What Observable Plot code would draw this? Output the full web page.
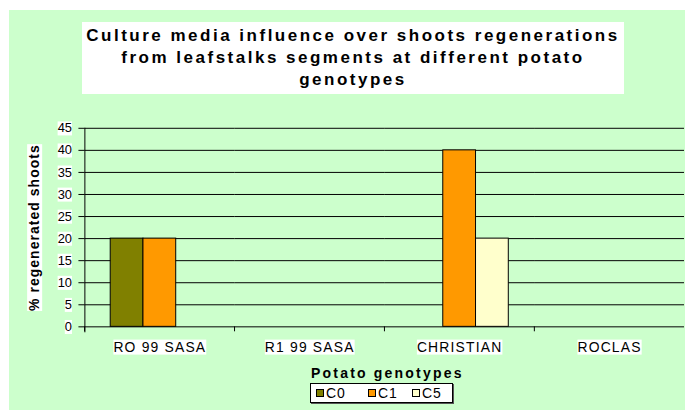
<!DOCTYPE html>
<html>
<head>
<meta charset="utf-8">
<script src="https://cdn.jsdelivr.net/npm/d3@7"></script>
<script src="https://cdn.jsdelivr.net/npm/@observablehq/plot@0.6"></script>
<style>
  html, body { margin: 0; padding: 0; width: 685px; height: 410px; overflow: hidden; background: #fff; }
  body { position: relative; font-family: "Liberation Sans", Arial, sans-serif; }
  #bg { position: absolute; left: 9px; top: 10px; right: 0; bottom: 0; background: #CCFFCC; }
  #title { position: absolute; left: 82px; top: 22px; width: 542px; height: 72px; background: #fff;
           text-align: center; font-weight: bold; font-size: 17px; line-height: 22px; letter-spacing: 2.5px;
           padding-top: 3px; box-sizing: border-box; color: #000; white-space: nowrap; }
  #chart { position: absolute; left: 0; top: 100px; }
  #chart svg { overflow: hidden; }
  #chart g[aria-label="y-axis label"] text { font-weight: bold; font-size: 14px; letter-spacing: 1.1px; }
  #chart g[aria-label="fx-axis tick label"] text { font-size: 14px; letter-spacing: 1.2px; }
  #legtitle { position: absolute; left: 311px; top: 365px; font-weight: bold; font-size: 14px; letter-spacing: 2.2px; }
  #legend { position: absolute; left: 310px; top: 383px; width: 143px; height: 20px; background: #fff;
            border: 1px solid #000; box-shadow: 1px 1px 0 #555; box-sizing: border-box; }
  .item { position: absolute; top: 1px; font-size: 14px; line-height: 16px; letter-spacing: 1px; }
  .sw { display: inline-block; width: 6px; height: 6px; border: 1px solid #000; margin-right: 2px; vertical-align: 1px; }
</style>
</head>
<body>
<div id="bg"></div>
<div id="title">Culture media influence over shoots regenerations<br>from leafstalks segments at different potato<br>genotypes</div>
<div id="chart"></div>
<div id="legtitle">Potato genotypes</div>
<div id="legend"></div>
<script>
// ---- data ----
const genotypes = ["RO 99 SASA", "R1 99 SASA", "CHRISTIAN", "ROCLAS"];
const media = ["C0", "C1", "C5"];
const valuesC0 = [20, 0, 0, 0];
const valuesC1 = [20, 0, 40, 0];
const valuesC5 = [0, 0, 20, 0];
const mediaColors = ["#808000", "#FF9900", "#FFFFCC"];
const yTicks = [0, 5, 10, 15, 20, 25, 30, 35, 40, 45];
const yLabel = "% regenerated shoots";

const series = [valuesC0, valuesC1, valuesC5];
const rows = genotypes.flatMap((g, i) => media.map((m, j) => ({genotype: g, medium: m, value: series[j][i]})));

const W = 690, H = 265, ML = 84, MR = 0;
const step = (W - ML - MR) / genotypes.length;

const chart = Plot.plot({
  width: W, height: H,
  marginTop: 28, marginBottom: 37, marginLeft: ML, marginRight: MR,
  style: {fontFamily: "'Liberation Sans', Arial, sans-serif", fontSize: "13px", background: "transparent", color: "#000"},
  fx: {domain: genotypes, padding: 0, label: null, axis: null},
  x: {domain: media, paddingInner: 0, paddingOuter: 0.76, axis: null},
  y: {domain: [0, 45], axis: null},
  color: {domain: media, range: mediaColors},
  marks: [
    Plot.gridY(yTicks, {stroke: "#000", strokeOpacity: 1, strokeWidth: 1}),
    Plot.frame({anchor: "left", facetAnchor: "left", stroke: "#000", insetBottom: -5}),
    Plot.barY(rows, {fx: "genotype", x: "medium", y: "value", fill: "medium", stroke: "#000", strokeWidth: 1}),
    Plot.axisY(yTicks, {facetAnchor: "left", tickSize: 6, tickPadding: 7, label: yLabel, labelArrow: false, labelAnchor: "center", labelOffset: 56}),
    Plot.axisFx({anchor: "bottom", tickSize: 0, tickPadding: 15, label: null}),
    Plot.axisFx({anchor: "bottom", tickSize: 5, tickFormat: () => "", label: null, dx: -step / 2})
  ]
});
document.getElementById("chart").appendChild(chart);

// strip any auto arrow from the y label
chart.querySelectorAll('g[aria-label="y-axis label"] text').forEach(t => {
  t.textContent = t.textContent.replace(/\s*↑\s*/g, "");
});

// white boxes behind axis texts
for (const sel of ['g[aria-label="y-axis tick label"] text', 'g[aria-label="fx-axis tick label"] text', 'g[aria-label="y-axis label"] text']) {
  chart.querySelectorAll(sel).forEach(t => {
    if (!t.textContent) return;
    const b = t.getBBox();
    const r = document.createElementNS("http://www.w3.org/2000/svg", "rect");
    r.setAttribute("x", b.x); r.setAttribute("y", b.y + 1);
    r.setAttribute("width", b.width); r.setAttribute("height", b.height - 1);
    r.setAttribute("fill", "#fff"); r.setAttribute("stroke", "none");
    if (t.getAttribute("transform")) r.setAttribute("transform", t.getAttribute("transform"));
    t.parentNode.insertBefore(r, t);
  });
}

// legend
const lg = document.getElementById("legend");
const offs = [6, 58, 102];
media.forEach((m, j) => {
  const it = document.createElement("div");
  it.className = "item";
  it.style.left = offs[j] - 1 + "px";
  it.innerHTML = `<span class="sw" style="background:${mediaColors[j]}"></span>${m}`;
  lg.appendChild(it);
});
</script>
</body>
</html>
